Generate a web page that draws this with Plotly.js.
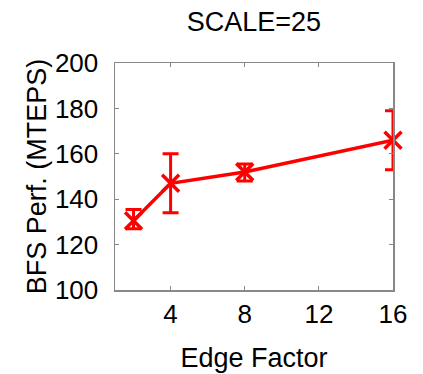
<!DOCTYPE html>
<html>
<head>
<meta charset="utf-8">
<script src="https://cdn.plot.ly/plotly-3.0.1.min.js"></script>
<style>html,body{margin:0;padding:0;background:#fff;}#chart{width:423px;height:374px;}</style>
</head>
<body>
<div id="chart"></div>
<script>
const edgeFactor = [2, 4, 8, 16];
const bfsPerf = [130.5, 147, 152, 166];
const errPlus = [5, 13, 3.5, 13];
const errMinus = [3.5, 13, 4, 13];
const xTicks = [4, 8, 12, 16];
const yTicks = [100, 120, 140, 160, 180, 200];

const font = {family: '"Liberation Sans", Arial, sans-serif', color: '#000'};
const red = '#ff0000';

const traces = [
  {
    x: edgeFactor, y: bfsPerf, type: 'scatter', mode: 'lines',
    line: {color: red, width: 3.5},
    error_y: {type: 'data', symmetric: false, array: errPlus, arrayminus: errMinus,
              color: red, thickness: 3, width: 8},
    hoverinfo: 'skip', showlegend: false
  },
  {
    x: edgeFactor, y: bfsPerf, type: 'scatter', mode: 'markers',
    marker: {symbol: 'x-thin-open', size: 17, color: red, line: {color: red, width: 3.5}},
    cliponaxis: false, showlegend: false
  }
];

const layout = {
  width: 423, height: 374,
  margin: {l: 115, r: 30, t: 63, b: 84},
  paper_bgcolor: '#fff', plot_bgcolor: '#fff',
  font: Object.assign({size: 26}, font),
  title: {text: 'SCALE=25', font: Object.assign({size: 27}, font), x: 0.6, xanchor: 'center', y: 0.942, yanchor: 'middle'},
  xaxis: {
    range: [1, 16], tickvals: xTicks, ticktext: xTicks.map(String),
    ticks: 'inside', ticklen: 4, tickcolor: '#888', tickwidth: 1,
    showline: true, linecolor: '#888', linewidth: 1.5, mirror: 'ticks',
    showgrid: false, zeroline: false,
    tickfont: Object.assign({size: 26}, font),
    title: {text: 'Edge Factor', font: Object.assign({size: 27}, font), standoff: 20}
  },
  yaxis: {
    range: [100, 200], tickvals: yTicks, ticktext: yTicks.map(String),
    ticks: 'inside', ticklen: 4, tickcolor: '#888', tickwidth: 1,
    showline: true, linecolor: '#888', linewidth: 1.5, mirror: 'ticks',
    showgrid: false, zeroline: false,
    ticklabelstandoff: 10,
    tickfont: Object.assign({size: 26}, font),
    title: {text: 'BFS Perf. (MTEPS)', font: Object.assign({size: 27}, font), standoff: 0}
  }
};

Plotly.newPlot('chart', traces, layout, {displayModeBar: false, staticPlot: true});
</script>
</body>
</html>
